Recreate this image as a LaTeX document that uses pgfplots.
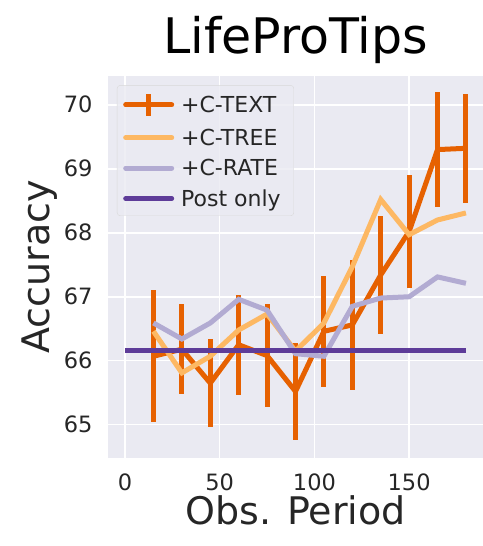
\documentclass[border=0pt]{standalone}
\usepackage{pgfplots}
\pgfplotsset{compat=1.18}
\usepackage{fontspec}
\setmainfont{DejaVu Sans}
\definecolor{bgc}{HTML}{EAEAF2}
\definecolor{txt}{HTML}{262626}
\definecolor{ctext}{HTML}{E66101}
\definecolor{ctree}{HTML}{FDB863}
\definecolor{crate}{HTML}{B2ABD2}
\definecolor{post}{HTML}{5E3C99}
\pgfplotsset{
  longline/.style={legend image code/.code={
    \draw[##1, line cap=round] (0pt,0pt) -- (46pt,0pt);}},
}
\begin{document}
\begin{tikzpicture}
\begin{axis}[
  scale only axis, width=375pt, height=382pt,
  xmin=-9, xmax=189, ymin=64.48, ymax=70.45,
  xtick={0,50,100,150}, ytick={65,66,67,68,69,70},
  grid=major, major grid style={white, line width=1.5pt},
  axis background/.style={fill=bgc},
  axis line style={draw=none}, tick style={draw=none},
  /pgf/number format/assume math mode=true,
  ticklabel style={font=\fontsize{22.5}{26}\selectfont, text=txt},
  xticklabel style={yshift=-12pt},
  yticklabel style={xshift=-12pt},
  title={LifeProTips},
  title style={font=\fontsize{49}{56}\selectfont, text=black, yshift=3pt},
  xlabel={Obs. Period}, ylabel={Accuracy},
  label style={font=\fontsize{38}{44}\selectfont, text=txt},
  xlabel style={yshift=2pt},
  legend cell align=left,
  legend style={at={(0.024,0.976)}, anchor=north west,
    fill=bgc, fill opacity=0.8, text opacity=1, draw=black!15, rounded corners=3pt,
    font=\fontsize{22}{25}\selectfont, text=txt, row sep=8.5pt,
    inner xsep=6pt, inner ysep=6pt,
    nodes={inner xsep=7pt}},
]
\addplot[ctext, line width=5pt, mark=none,
  legend image code/.code={
    \draw[line cap=round] (0pt,0pt) -- (46pt,0pt);
    \draw (23pt,-11pt) -- (23pt,11pt);},
  error bars/.cd, y dir=both, y explicit,
  error bar style={line width=5pt, ctext}, error mark=none]
  coordinates {
  (15,66.07) +- (0,1.035)
  (30,66.18) +- (0,0.70)
  (45,65.65) +- (0,0.69)
  (60,66.25) +- (0,0.78)
  (75,66.08) +- (0,0.80)
  (90,65.52) +- (0,0.765)
  (105,66.46) +- (0,0.87)
  (120,66.56) +- (0,1.02)
  (135,67.34) +- (0,0.925)
  (150,68.02) +- (0,0.885)
  (165,69.30) +- (0,0.905)
  (180,69.32) +- (0,0.85)
  };
\addlegendentry{+C-TEXT}
\addplot[ctree, line width=5pt, mark=none, longline] coordinates {
  (15,66.46) (30,65.81) (45,66.07) (60,66.48) (75,66.73) (90,66.15)
  (105,66.59) (120,67.47) (135,68.52) (150,67.97) (165,68.20) (180,68.31)
  };
\addlegendentry{+C-TREE}
\addplot[crate, line width=5pt, mark=none, longline] coordinates {
  (15,66.59) (30,66.34) (45,66.59) (60,66.96) (75,66.79) (90,66.11)
  (105,66.07) (120,66.85) (135,66.98) (150,67.00) (165,67.31) (180,67.21)
  };
\addlegendentry{+C-RATE}
\addplot[post, line width=5pt, mark=none, longline] coordinates {(0,66.16) (180,66.16)};
\addlegendentry{Post only}
\coordinate (bl) at (rel axis cs:0,0);
\coordinate (tr) at (rel axis cs:1,1);
\end{axis}
\pgfresetboundingbox
\path ([xshift=-108pt,yshift=-88pt]bl) rectangle ([yshift=76pt]tr);
\end{tikzpicture}
\end{document}
